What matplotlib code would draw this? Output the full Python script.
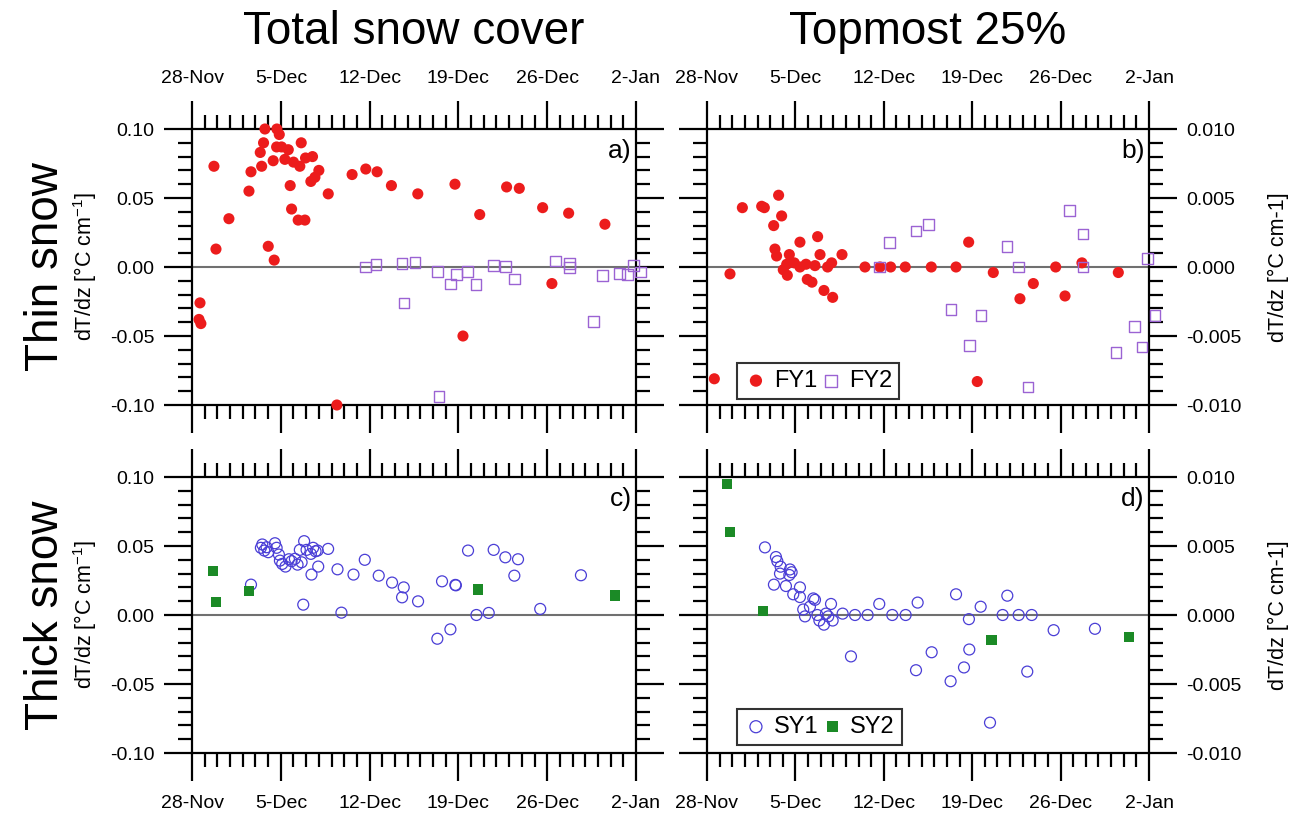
import matplotlib
matplotlib.use("Agg")
import matplotlib.pyplot as plt
from matplotlib.ticker import MultipleLocator, FormatStrFormatter, FixedLocator

plt.rcParams['font.family'] = ['Liberation Sans', 'DejaVu Sans']
plt.rcParams['mathtext.fontset'] = 'custom'
plt.rcParams['mathtext.rm'] = 'Liberation Sans'
plt.rcParams['mathtext.it'] = 'Liberation Sans:italic'

# x values are days after 28 Nov
date_ticks = [0, 7, 14, 21, 28, 35]
date_labels = ["28-Nov", "5-Dec", "12-Dec", "19-Dec", "26-Dec", "2-Jan"]

# thin snow, whole snow cover
fy1_tot_day = [0.55, 0.7, 0.63, 1.73, 1.89, 2.91, 4.49, 4.65, 5.49, 5.38, 5.64, 5.75, 6.01,
               6.48, 6.40, 6.69, 6.88, 6.67, 7.06, 7.59, 7.32, 7.74, 7.85, 8.37, 8.90, 8.0,
               8.50, 8.61, 8.95, 9.50, 9.37, 9.69, 10.0, 10.74, 11.42, 12.62, 13.70, 14.59,
               15.72, 17.80, 20.73, 22.68, 21.36, 24.80, 25.80, 27.64, 28.37, 29.69, 32.55]
fy1_tot = [-0.038, -0.041, -0.026, 0.073, 0.013, 0.035, 0.055, 0.069, 0.073, 0.083, 0.090,
           0.100, 0.015, 0.005, 0.077, 0.100, 0.096, 0.087, 0.087, 0.085, 0.078, 0.059, 0.042,
           0.034, 0.034, 0.076, 0.073, 0.090, 0.079, 0.080, 0.062, 0.065, 0.070, 0.053, -0.100,
           0.067, 0.071, 0.069, 0.059, 0.053, 0.060, 0.038, -0.050, 0.058, 0.057, 0.043,
           -0.012, 0.039, 0.031]
fy2_tot_day = [13.67, 14.51, 16.56, 17.58, 16.72, 19.47, 19.35, 20.39, 20.84, 21.71, 22.39,
               23.78, 24.70, 25.43, 28.64, 29.76, 29.76, 31.65, 32.34, 33.7, 34.35, 34.83, 35.33]
fy2_tot = [0.000, 0.002, 0.0027, 0.0034, -0.026, -0.094, -0.0034, -0.0123, -0.0053, -0.0034,
           -0.0128, 0.0013, 0.0003, -0.0087, 0.0043, 0.0027, -0.0002, -0.0396, -0.006,
           -0.0046, -0.0053, 0.001, -0.0036]

# thin snow, topmost 25 %
fy1_top_day = [0.58, 1.82, 2.80, 4.33, 4.54, 5.67, 5.91, 5.28, 5.38, 5.51, 6.52, 7.36, 8.76,
               8.95, 10.69, 6.31, 6.36, 6.91, 7.36, 7.84, 7.94, 8.31, 8.55, 9.26, 9.55, 9.87,
               9.95, 6.04, 12.51, 13.70, 14.54, 15.70, 17.76, 19.72, 20.72, 22.67, 21.4,
               24.78, 25.84, 27.61, 28.35, 29.69, 32.57]
fy1_top = [-0.0081, -0.0005, 0.0043, 0.0044, 0.0043, 0.0052, 0.0037, 0.0030, 0.0013, 0.0008,
           0.0009, 0.0018, 0.0022, 0.0009, 0.0009, 0.0002, -0.0006, 0.0003, 0.0, 0.0002,
           -0.0009, -0.0011, 0.0001, -0.0017, 0.0, 0.0003, -0.0022, -0.0002, 0.0, 0.0, 0.0,
           0.0, 0.0, 0.0, 0.0018, -0.0004, -0.0083, -0.0023, -0.0012, 0.0, -0.0021, 0.0003,
           -0.0004]
fy2_top_day = [13.64, 14.44, 16.55, 17.52, 19.32, 20.77, 21.69, 23.75, 24.68, 25.42, 28.69,
               29.77, 29.77, 32.38, 33.86, 34.44, 34.89, 35.47]
fy2_top = [0.0, 0.0018, 0.0026, 0.0031, -0.0031, -0.0057, -0.0035, 0.0015, 0.0, -0.0087,
           0.0041, 0.0024, 0.0, -0.0062, -0.0043, -0.0058, 0.0006, -0.0035]

# thick snow, whole snow cover
sy1_tot_day = [4.65, 5.43, 5.54, 5.70, 5.88, 6.01, 6.54, 6.67, 6.85, 6.93, 7.11, 7.37, 7.64,
               7.85, 8.11, 8.32, 8.50, 8.64, 8.84, 9.03, 9.37, 9.55, 9.74, 9.90, 9.95, 9.42,
               10.73, 8.77, 11.47, 11.78, 12.73, 13.62, 14.72, 15.77, 16.69, 16.56, 17.82,
               19.71, 20.76, 20.8, 21.76, 19.34, 20.37, 22.42, 23.39, 23.78, 24.70, 25.70,
               25.41, 27.45, 30.66]
sy1_tot = [0.022, 0.0487, 0.0511, 0.0467, 0.0491, 0.0455, 0.052, 0.0487, 0.0438, 0.0394,
           0.037, 0.0351, 0.0404, 0.039, 0.0407, 0.0365, 0.0472, 0.0382, 0.0535, 0.0472,
           0.0443, 0.0487, 0.0462, 0.0467, 0.0351, 0.0293, 0.0479, 0.0075, 0.0331, 0.0017,
           0.0293, 0.040, 0.0285, 0.0235, 0.020, 0.0128, 0.0099, 0.0244, 0.0218, 0.0215,
           0.0467, -0.0172, -0.0104, 0.0, 0.0015, 0.0472, 0.0418, 0.0404, 0.0285, 0.0044,
           0.0288]
sy2_tot_day = [1.68, 1.89, 4.49, 22.57, 33.36]
sy2_tot = [0.032, 0.0094, 0.0176, 0.0184, 0.0142]

# thick snow, topmost 25 %
sy1_top_day = [4.59, 5.46, 5.57, 5.83, 5.78, 5.30, 6.25, 6.57, 6.70, 6.52, 6.83, 7.36, 7.36,
               7.62, 7.76, 8.15, 8.42, 8.55, 8.74, 8.90, 9.26, 9.42, 9.60, 9.95, 9.82, 10.74,
               11.72, 12.72, 11.40, 13.64, 14.67, 15.73, 16.68, 16.55, 17.79, 19.72, 19.29,
               20.35, 20.77, 20.74, 21.67, 22.41, 23.41, 23.78, 24.68, 25.71, 25.36, 27.45,
               30.72]
sy1_top = [0.0049, 0.0042, 0.0039, 0.0035, 0.0030, 0.0022, 0.0021, 0.0033, 0.0031, 0.0029,
           0.0015, 0.0020, 0.0013, 0.0004, -0.0001, 0.0006, 0.0012, 0.0011, 0.0, -0.0004,
           -0.0007, 0.0001, -0.0001, -0.0004, 0.0008, 0.0001, 0.0, 0.0, -0.0030, 0.0008, 0.0,
           0.0, 0.0009, -0.0040, -0.0027, 0.0015, -0.0048, -0.0038, -0.0025, -0.0003, 0.0006,
           -0.0078, 0.0, 0.0014, 0.0, 0.0, -0.0041, -0.0011, -0.0010]
sy2_top_day = [1.61, 1.82, 4.41, 22.54, 33.41]
sy2_top = [0.0095, 0.0060, 0.0003, -0.0018, -0.0016]

RED = '#ec1c1c'
PURPLE = '#9b63d3'
BLUE = '#4a3ed6'
GREEN = '#1b8a26'

W, H = 1294, 821
fig = plt.figure(figsize=(W / 100, H / 100), dpi=100)


def px_axes(left, top, right, bottom):
    return fig.add_axes([left / W, 1 - bottom / H, (right - left) / W, (bottom - top) / H])


ax_a = px_axes(192, 129, 636, 405)
ax_b = px_axes(707, 129, 1149, 405)
ax_c = px_axes(192, 477, 636, 753)
ax_d = px_axes(707, 477, 1149, 753)

for ax, lim, minor, fmt, right_side, top_row, letter in [
        (ax_a, 0.1, 0.01, '%.2f', False, True, 'a)'),
        (ax_b, 0.01, 0.001, '%.3f', True, True, 'b)'),
        (ax_c, 0.1, 0.01, '%.2f', False, False, 'c)'),
        (ax_d, 0.01, 0.001, '%.3f', True, False, 'd)')]:
    ax.set_xlim(0, 35)
    ax.set_ylim(-lim, lim)
    ax.axhline(0, color='#707070', lw=1.5, zorder=1)
    ax.xaxis.set_major_locator(FixedLocator(date_ticks))
    ax.set_xticklabels(date_labels)
    ax.xaxis.set_minor_locator(MultipleLocator(1))
    ax.yaxis.set_major_locator(MultipleLocator(lim / 2))
    ax.yaxis.set_minor_locator(MultipleLocator(minor))
    ax.yaxis.set_major_formatter(FormatStrFormatter(fmt))
    for s in ax.spines.values():
        s.set_linewidth(1.6)
    ax.tick_params(which='both', direction='out', top=True, bottom=True, left=True,
                   right=True, width=1.6, labelsize=14, labeltop=top_row,
                   labelbottom=not top_row, labelleft=not right_side,
                   labelright=right_side)
    ax.tick_params(which='major', length=20, pad=7)
    ax.tick_params(which='minor', length=10)
    ax.tick_params(axis='x', which='major', pad=10)
    if right_side:
        ax.yaxis.set_label_position('right')
        ax.set_ylabel('dT/dz [°C cm-1]', fontsize=15.5)
        ax.yaxis.set_label_coords(1.27, 0.5)
    else:
        ax.set_ylabel('dT/dz [°C cm$^{-1}$]', fontsize=15.5)
        ax.yaxis.set_label_coords(-0.21, 0.5)
    ax.text(0.99, 0.965, letter, transform=ax.transAxes, ha='right', va='top', fontsize=19)

kw = dict(clip_on=False, zorder=3)
ax_a.scatter(fy1_tot_day, fy1_tot, s=64, color=RED, edgecolors='none', **kw)
ax_a.scatter(fy2_tot_day, fy2_tot, s=60, marker='s', facecolors='none', edgecolors=PURPLE,
             linewidths=1.0, **kw)

ax_b.scatter(fy1_top_day, fy1_top, s=64, color=RED, edgecolors='none', label='FY1', **kw)
ax_b.scatter(fy2_top_day, fy2_top, s=60, marker='s', facecolors='none', edgecolors=PURPLE,
             linewidths=1.0, label='FY2', **kw)

ax_c.scatter(sy1_tot_day, sy1_tot, s=62, facecolors='none', edgecolors=BLUE,
             linewidths=0.9, **kw)
ax_c.scatter(sy2_tot_day, sy2_tot, s=55, marker='s', color=GREEN, edgecolors='none', **kw)

ax_d.scatter(sy1_top_day, sy1_top, s=62, facecolors='none', edgecolors=BLUE,
             linewidths=0.9, label='SY1', **kw)
ax_d.scatter(sy2_top_day, sy2_top, s=55, marker='s', color=GREEN, edgecolors='none',
             label='SY2', **kw)

for ax, ybox in [(ax_b, 0.022), (ax_d, 0.029)]:
    leg = ax.legend(loc='lower left', bbox_to_anchor=(0.068, ybox), borderaxespad=0,
                    ncol=2, fontsize=17, frameon=True, fancybox=False, handletextpad=0.25,
                    columnspacing=0.1, handlelength=1.0, borderpad=0.3, markerscale=1.1)
    leg.get_frame().set_edgecolor('black')
    leg.get_frame().set_linewidth(1.5)

fig.text(414 / W, 1 - 32 / H, 'Total snow cover', fontsize=33, ha='center', va='center')
fig.text(928 / W, 1 - 32 / H, 'Topmost 25%', fontsize=33, ha='center', va='center')
fig.text(46 / W, 1 - 267 / H, 'Thin snow', fontsize=33, rotation=90, ha='center', va='center')
fig.text(46 / W, 1 - 615 / H, 'Thick snow', fontsize=33, rotation=90, ha='center', va='center')

fig.savefig('out.png', dpi=100)
